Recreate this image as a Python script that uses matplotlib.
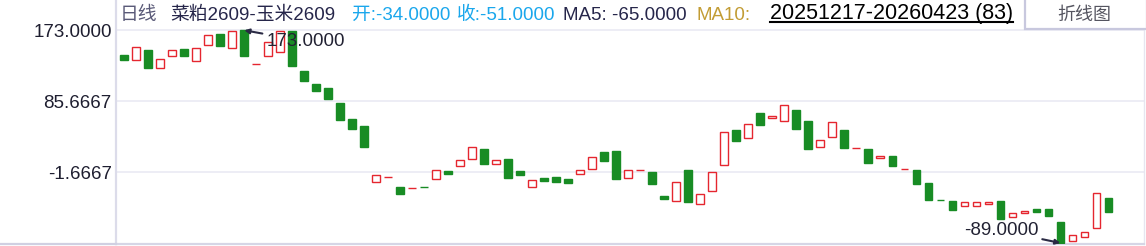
import matplotlib
matplotlib.use("Agg")
import matplotlib.pyplot as plt
from matplotlib.lines import Line2D
from matplotlib.patches import Rectangle

plt.rcParams['font.family'] = ['Liberation Sans', 'Noto Sans CJK SC']

# daily spread candles, 20251217-20260423 (83 bars)
opens = [142.6, 136.0, 148.8, 126.2, 141.0, 150.0, 134.8, 154.5, 168.5, 150.8,
         173.0, 131.1, 141.0, 145.9, 172.2, 122.9, 106.9, 102.0, 83.5, 63.8,
         55.2, -14.2, -8.1, -20.4, -21.6, -20.4, -9.7, -0.3, 6.3, 14.1,
         26.8, 8.0, 14.5, -0.3, -20.4, -8.9, -7.7, -10.1, -4.4, 1.8,
         23.1, 24.4, -9.3, 0.5, -1.5, -31.5, -37.6, 0.9, -41.3, -25.3,
         6.7, 50.2, 40.0, 71.2, 65.4, 60.9, 74.9, 61.3, 28.9, 41.2,
         50.2, 27.6, 26.8, 16.2, 18.2, 1.8, 0.9, -15.1, -36.0, -37.2,
         -43.8, -43.8, -40.5, -37.2, -56.5, -52.4, -47.1, -47.1, -63.1, -86.9,
         -82.0, -70.9, -34.0]
closes = [136.9, 152.1, 127.0, 137.7, 148.4, 141.8, 150.8, 166.8, 154.1, 172.0,
          141.8, 131.1, 158.2, 171.8, 129.5, 111.0, 98.7, 88.8, 63.0, 51.9,
          29.7, -5.6, -8.1, -28.2, -21.6, -20.4, 0.5, -3.6, 12.9, 28.9,
          8.8, 12.9, -8.5, -4.8, -11.8, -12.2, -13.4, -14.6, 0.5, 16.6,
          12.5, -9.7, 0.5, 0.5, -15.9, -34.4, -14.2, -38.0, -29.0, -1.9,
          47.4, 37.1, 57.2, 56.8, 67.5, 80.6, 51.9, 27.2, 37.5, 59.7,
          28.5, 27.6, 9.9, 18.2, 6.3, 1.8, -15.9, -35.6, -36.0, -47.9,
          -38.0, -38.3, -38.5, -59.0, -51.6, -50.0, -50.4, -55.3, -89.0, -79.5,
          -75.0, -27.0, -51.0]
# doji flags: green when the bar closed down from the previous one
down_doji = [25, 68]

yticks = [173.0, 85.6667, -1.6667]
ytick_labels = ['173.0000', '85.6667', '-1.6667']
hi_idx, hi_val = 10, 173.0
lo_idx, lo_val = 78, -89.0

title_parts = [
    (120, '日线', '#5a5a78'),
    (170, '菜粕2609-玉米2609', '#26264a'),
    (352, '开:-34.0000', '#1aa7ec'),
    (457, '收:-51.0000', '#1aa7ec'),
    (563, 'MA5: -65.0000', '#26264a'),
    (697, 'MA10:', '#c29c34'),
]
date_range = '20251217-20260423 (83)'

W, H = 1146, 246
RED = '#e5262f'
GREEN = '#188c24'

fig = plt.figure(figsize=(W / 100, H / 100), dpi=100)
ax = fig.add_axes([116 / W, 1 - 244 / H, (1144 - 116) / W, 244 / H])

xs = list(range(len(opens)))
for i in xs:
    o, c = opens[i], closes[i]
    if c > o or (c == o and i not in down_doji):
        ax.bar(i, c - o, bottom=o, width=0.64, facecolor='white',
               edgecolor=RED, linewidth=1.0, zorder=3)
    else:
        ax.bar(i, c - o, bottom=o, width=0.64, facecolor=GREEN,
               edgecolor=GREEN, linewidth=1.0, zorder=3)

ax.set_xlim(-0.69, 84.97)
ax.set_ylim(-90.23, 210.3)
ax.set_xticks([])
ax.set_yticks(yticks)
ax.set_yticklabels(ytick_labels)
ax.tick_params(axis='y', length=0, pad=3, labelsize=13.5, labelcolor='#1e1e30')
ax.grid(axis='y', color='#e8e8f2', linewidth=1.1)
ax.set_axisbelow(True)

ax.spines['top'].set_visible(False)
ax.spines['left'].set_color('#dcdcea')
ax.spines['left'].set_linewidth(1.6)
ax.spines['bottom'].set_color('#d6d6e6')
ax.spines['bottom'].set_linewidth(1.6)
ax.spines['right'].set_color('#e6e6f0')
ax.spines['right'].set_linewidth(1.0)

fig.add_artist(Line2D([0, 116 / W], [1 - 244 / H, 1 - 244 / H],
                      color='#d0d0e2', linewidth=1.6))

# high / low markers
arrow = dict(arrowstyle='-|>', color='#2a2a44', lw=1.5, shrinkA=1, shrinkB=0,
             mutation_scale=7)
ax.annotate('%.4f' % hi_val, xy=(hi_idx, hi_val), xytext=(16, -8),
            textcoords='offset points', ha='left', va='center',
            fontsize=13.5, color='#222233', arrowprops=arrow, zorder=5)
ax.annotate('%.4f' % lo_val, xy=(lo_idx, lo_val), xytext=(-16, 9),
            textcoords='offset points', ha='right', va='center',
            fontsize=13.5, color='#222233', arrowprops=arrow, zorder=5)

# header line
for x, s, col in title_parts:
    fig.text(x / W, 1 - 20 / H, s, color=col, fontsize=13.5, va='baseline')

dt = fig.text(770 / W, 1 - 19.3 / H, date_range, color='black', fontsize=15.5,
              va='baseline')
fig.canvas.draw()
bb = dt.get_window_extent()
fig.add_artist(Line2D([bb.x0 / W, bb.x1 / W], [1 - 22 / H, 1 - 22 / H],
                      color='black', linewidth=1.5))

fig.add_artist(Rectangle((1025 / W, 1 - 29 / H), 122 / W, 31 / H,
                         transform=fig.transFigure, facecolor='white',
                         edgecolor='#c8c8de', linewidth=1.6))
fig.text(1084 / W, 1 - 15 / H, '折线图', color='#555560', fontsize=13,
         ha='center', va='center')

fig.savefig('out.png', dpi=100)
